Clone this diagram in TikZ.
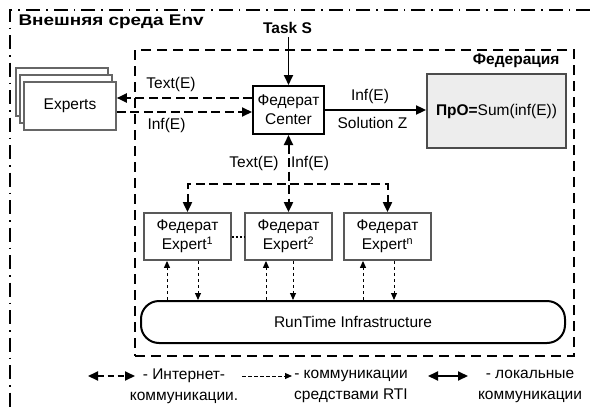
\documentclass[tikz,border=0pt]{standalone}
\usepackage{fontspec}
\setmainfont{Liberation Sans}
\usetikzlibrary{arrows.meta,positioning}
\newcommand\fsz{\fontsize{15.5}{19}\selectfont}

\begin{document}
\begin{tikzpicture}[x = 1pt, y = -1pt, font = \fsz,
    bigtri/.tip = {Triangle[length = 10pt, width = 9pt]},
    smalltri/.tip = {Triangle[length = 7pt, width = 6pt]},
    heading/.style = {font = \fsz\bfseries},
    fedbox/.style = {draw, line width = 2pt, fill = white, align = center,
      minimum width = 71pt, minimum height = 48pt, inner sep = 1pt},
    expbox/.style = {draw = black!65, line width = 1.8pt, fill = white, align = center,
      minimum width = 87pt, minimum height = 47pt, inner sep = 1pt},
    crowd/.style = {draw = black!60, line width = 1.6pt, fill = white,
      minimum width = 92pt, minimum height = 48pt},
    probox/.style = {draw = black!70, line width = 1.8pt, fill = black!7,
      minimum width = 139pt, minimum height = 74pt},
    rtibox/.style = {draw, line width = 2pt, rounded corners = 18pt,
      minimum width = 424pt, minimum height = 42pt},
    fedframe/.style = {draw, line width = 2pt, dash pattern = on 10pt off 6pt,
      minimum width = 439pt, minimum height = 306pt},
    envline/.style = {line width = 1.6pt, dash pattern = on 14pt off 6pt on 1.5pt off 6pt},
    inet/.style = {line width = 2pt, dash pattern = on 9pt off 4.5pt},
    rtil/.style = {line width = 1pt, dash pattern = on 3.5pt off 2.5pt},
    solidarr/.style = {line width = 1.8pt}]
    \useasboundingbox (0,0) rectangle (590,410);
    \fill[white] (0,0) rectangle (590,410);
    \draw[envline] (590,10) -- (10,10) -- (10,410);
    \node[heading, anchor = west] (env) at (15,22) {\scalebox{1.22}[1]{Внешняя среда Env}};
    \node[heading] (task) at (287.5,28) {Task S};

    \node[fedframe] (fed) at (354.5,203) {};
    \node[heading, anchor = east] (fedname) at ([xshift = -12pt, yshift = -12pt]fed.north east) {Федерация};

    % experts outside
    \node[crowd] (exp3) at (62,92) {};
    \node[crowd] (exp2) at (66,99) {};
    \node[crowd] (exp) at (70,106) {Experts};

    \node[fedbox] (ctr) at (288.5,110) {Федерат\\Center};
    \node[probox] (pro) at (496.5,111) {\textbf{ПрО=}Sum(inf(E))};

    \node[expbox] (e1) at (187.5,236.5) {Федерат\\Expert\textsuperscript{1}};
    \node[expbox] (e2) at (288.5,236.5) {Федерат\\Expert\textsuperscript{2}};
    \node[expbox] (en) at (387.5,236.5) {Федерат\\Expert\textsuperscript{n}};
    \node[rtibox] (rti) at (353,322) {RunTime Infrastructure};

    \draw[solidarr, -bigtri] (task.south -| ctr.north) -- (ctr.north);
    \draw[solidarr, -bigtri] (ctr.east) -- (ctr.east -| pro.west);
    \node (i2) at (370,96) {Inf(E)};
    \node (sz) at (372.5,123) {Solution Z};

    \draw[inet, -bigtri] ([yshift = 12pt]ctr.west) -- ([yshift = 12pt]ctr.west -| exp.east);
    \draw[inet, -bigtri] ([yshift = -2pt]ctr.west -| exp.east) -- ([yshift = -2pt]ctr.west);
    \node (t1) at (171,84) {Text(E)};
    \node (i1) at (166.5,125) {Inf(E)};

    \coordinate (bus) at (288,184);
    \draw[inet, bigtri-bigtri] (ctr.south) -- (e2.north);
    \draw[inet, bigtri-bigtri] (e1.north) -- (e1.north |- bus) -- (en.north |- bus) -- (en.north);
    \node (t2) at (254,163) {Text(E)};
    \node (i3) at (310,163) {Inf(E)};
    \draw[line width = 2pt, dash pattern = on 2pt off 2pt] (e1) -- (e2);

    % RTI links
    \foreach \e/\u/\d in {e1/-20.5/10.5, e2/-22.5/4.5, en/-24.5/6.5} {
      \draw[rtil, -smalltri] ([xshift = \u pt]\e.south |- rti.north) -- ([xshift = \u pt]\e.south);
      \draw[rtil, -smalltri] ([xshift = \d pt]\e.south) -- ([xshift = \d pt]\e.south |- rti.north);
    }

    % legend
    \coordinate (la) at (88,376);
    \coordinate (lb) at (135,376);
    \coordinate (lc) at (242,376);
    \coordinate (ld) at (292,376);
    \coordinate (le) at (428,376);
    \coordinate (lf) at (468,376);
    \draw[inet, dash pattern = on 6pt off 4pt, bigtri-bigtri] (la) -- (lb);
    \draw[rtil, -smalltri] (lc) -- (ld);
    \draw[solidarr, line width = 2pt, bigtri-bigtri] (le) -- (lf);
    \node[align = center, font = \fontsize{15.5}{21}\selectfont] (leg1) at (184,386) {- Интернет-\\коммуникации.};
    \node[align = center, font = \fontsize{15.5}{21}\selectfont] (leg2) at (351,386) {- коммуникации\\средствами RTI};
    \node[align = center, font = \fontsize{15.5}{21}\selectfont] (leg3) at (530,386) {- локальные\\коммуникации};
  \end{tikzpicture}
\end{document}
